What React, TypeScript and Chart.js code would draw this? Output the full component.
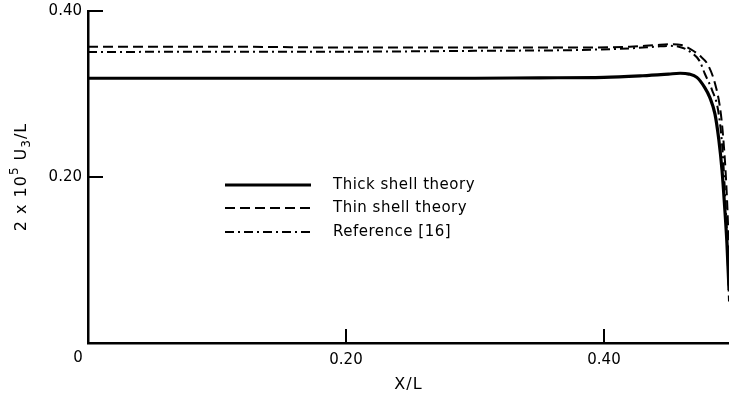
import React, { useEffect, useRef } from 'react';
import { Chart, registerables } from 'chart.js';
Chart.register(...registerables);

// Data
const thickX = [0, 0.05, 0.10, 0.15, 0.20, 0.25, 0.30, 0.35, 0.40, 0.43, 0.45, 0.459, 0.466, 0.472, 0.478, 0.482, 0.486, 0.489, 0.4915, 0.4935, 0.4953, 0.4969];
const thickY = [0.319, 0.319, 0.319, 0.319, 0.319, 0.319, 0.319, 0.3195, 0.320, 0.322, 0.324, 0.325, 0.324, 0.320, 0.308, 0.296, 0.276, 0.245, 0.208, 0.165, 0.120, 0.064];

const thinX = [0, 0.10, 0.20, 0.30, 0.38, 0.42, 0.44, 0.452, 0.46, 0.467, 0.4744, 0.4806, 0.486, 0.4899, 0.492, 0.4945, 0.4962, 0.4969];
const thinY = [0.357, 0.357, 0.356, 0.356, 0.356, 0.357, 0.359, 0.360, 0.359, 0.354, 0.346, 0.335, 0.313, 0.284, 0.255, 0.200, 0.140, 0.100];

const refX = [0, 0.10, 0.20, 0.30, 0.38, 0.42, 0.44, 0.45, 0.458, 0.4667, 0.4744, 0.478, 0.4837, 0.4884, 0.4915, 0.4935, 0.4953, 0.4969];
const refY = [0.3505, 0.351, 0.351, 0.352, 0.353, 0.355, 0.357, 0.358, 0.357, 0.351, 0.339, 0.325, 0.305, 0.281, 0.240, 0.190, 0.130, 0.050];

const seriesLabels = ['Thick shell theory', 'Thin shell theory', 'Reference [16]'];
const xTickValues = [0, 0.2, 0.4];
const xTickLabels = ['0', '0.20', '0.40'];
const yTickValues = [0, 0.2, 0.4];
const yTickLabels = ['0', '0.20', '0.40'];
const xTitle = 'X/L';
const yTitleParts = ['2 x 10', '5', ' U', '3', '/L'];
const originLabel = '0';

const FONT = 'DejaVu Sans';

const toPts = (xs: number[], ys: number[]) => xs.map((x, i) => ({ x, y: ys[i] }));

const overlayPlugin = {
  id: 'overlay',
  afterDraw(chart: any) {
    const ctx = chart.ctx as CanvasRenderingContext2D;
    const xs = chart.scales.x;
    const ys = chart.scales.y;
    const area = chart.chartArea;
    ctx.save();
    ctx.strokeStyle = '#000';
    ctx.fillStyle = '#000';
    // inward ticks
    ctx.lineWidth = 2;
    ctx.setLineDash([]);
    yTickValues.forEach((v) => {
      if (v === 0) return;
      const py = ys.getPixelForValue(v);
      ctx.beginPath();
      ctx.moveTo(area.left, py);
      ctx.lineTo(area.left + 15, py);
      ctx.stroke();
    });
    xTickValues.forEach((v) => {
      if (v === 0) return;
      const px = xs.getPixelForValue(v);
      ctx.beginPath();
      ctx.moveTo(px, area.bottom);
      ctx.lineTo(px, area.bottom - 14);
      ctx.stroke();
    });
    // origin label
    ctx.font = `15px ${FONT}`;
    ctx.textAlign = 'center';
    ctx.textBaseline = 'middle';
    ctx.fillText(originLabel, xs.getPixelForValue(0) - 10, area.bottom + 15);
    // x title
    (ctx as any).letterSpacing = '1px';
    ctx.font = `16px ${FONT}`;
    ctx.fillText(xTitle, (area.left + area.right) / 2, 385);
    (ctx as any).letterSpacing = '0px';
    // y title
    ctx.save();
    ctx.translate(22, (area.top + area.bottom) / 2);
    ctx.rotate(-Math.PI / 2);
    (ctx as any).letterSpacing = '1px';
    const parts = yTitleParts.map((t, i) => ({
      t,
      size: i === 1 || i === 3 ? 12 : 16,
      dy: i === 1 ? -7 : i === 3 ? 5 : 0,
    }));
    let total = 0;
    parts.forEach((p) => {
      ctx.font = `${p.size}px ${FONT}`;
      total += ctx.measureText(p.t).width;
    });
    let cx = -total / 2;
    ctx.textAlign = 'left';
    parts.forEach((p) => {
      ctx.font = `${p.size}px ${FONT}`;
      ctx.fillText(p.t, cx, p.dy);
      cx += ctx.measureText(p.t).width;
    });
    (ctx as any).letterSpacing = '0px';
    ctx.restore();
    // legend
    const rows = [185, 208, 232];
    chart.data.datasets.forEach((ds: any, i: number) => {
      const y = rows[i];
      ctx.beginPath();
      ctx.lineWidth = ds.borderWidth;
      ctx.setLineDash(ds.borderDash || []);
      ctx.moveTo(225, y);
      ctx.lineTo(311, y);
      ctx.stroke();
      ctx.setLineDash([]);
      ctx.font = `15px ${FONT}`;
      (ctx as any).letterSpacing = '0.5px';
      ctx.textAlign = 'left';
      ctx.textBaseline = 'middle';
      ctx.fillText(ds.label, 333, y);
      (ctx as any).letterSpacing = '0px';
    });
    ctx.restore();
  },
};

export default function App() {
  const ref = useRef<HTMLCanvasElement>(null);
  useEffect(() => {
    if (!ref.current) return;
    const chart = new Chart(ref.current, {
      type: 'line',
      data: {
        datasets: [
          {
            label: seriesLabels[0],
            data: toPts(thickX, thickY),
            borderColor: '#000',
            borderWidth: 3.2,
            pointRadius: 0,
            cubicInterpolationMode: 'monotone',
          },
          {
            label: seriesLabels[1],
            data: toPts(thinX, thinY),
            borderColor: '#000',
            borderWidth: 2,
            borderDash: [10, 5],
            pointRadius: 0,
            cubicInterpolationMode: 'monotone',
          },
          {
            label: seriesLabels[2],
            data: toPts(refX, refY),
            borderColor: '#000',
            borderWidth: 2,
            borderDash: [9, 4, 2, 4],
            pointRadius: 0,
            cubicInterpolationMode: 'monotone',
          },
        ] as any,
      },
      options: {
        responsive: false,
        animation: false,
        layout: { padding: { top: 11, left: 0, right: 0, bottom: 0 } },
        plugins: { legend: { display: false }, tooltip: { enabled: false } },
        scales: {
          x: {
            type: 'linear',
            min: 0,
            max: 0.4969,
            afterFit: (s: any) => { s.height = 58; s.paddingLeft = 0; s.paddingRight = 0; },
            grid: { drawOnChartArea: false, drawTicks: false },
            border: { display: true, color: '#000', width: 2.5 },
            ticks: {
              stepSize: 0.2,
              includeBounds: false,
              color: '#000',
              padding: 8,
              maxRotation: 0,
              font: { family: FONT, size: 15 },
              callback: (v: any) => {
                const i = xTickValues.findIndex((t) => Math.abs(t - Number(v)) < 1e-6);
                if (i <= 0) return '';
                return xTickLabels[i];
              },
            },
          },
          y: {
            type: 'linear',
            min: 0,
            max: 0.4,
            afterFit: (s: any) => { s.width = 88; s.paddingTop = 0; s.paddingBottom = 0; },
            grid: { drawOnChartArea: false, drawTicks: false },
            border: { display: true, color: '#000', width: 2.5 },
            ticks: {
              stepSize: 0.2,
              color: '#000',
              padding: 6,
              font: { family: FONT, size: 15 },
              callback: (v: any) => {
                const i = yTickValues.findIndex((t) => Math.abs(t - Number(v)) < 1e-6);
                if (i <= 0) return '';
                return yTickLabels[i];
              },
            },
          },
        },
      } as any,
      plugins: [overlayPlugin],
    });
    return () => chart.destroy();
  }, []);
  return (
    <div style={{ position: 'absolute', left: 0, top: 0, width: 729, height: 401, background: '#fff' }}>
      <canvas ref={ref} width={729} height={401} style={{ width: 729, height: 401, display: 'block' }} />
    </div>
  );
}
